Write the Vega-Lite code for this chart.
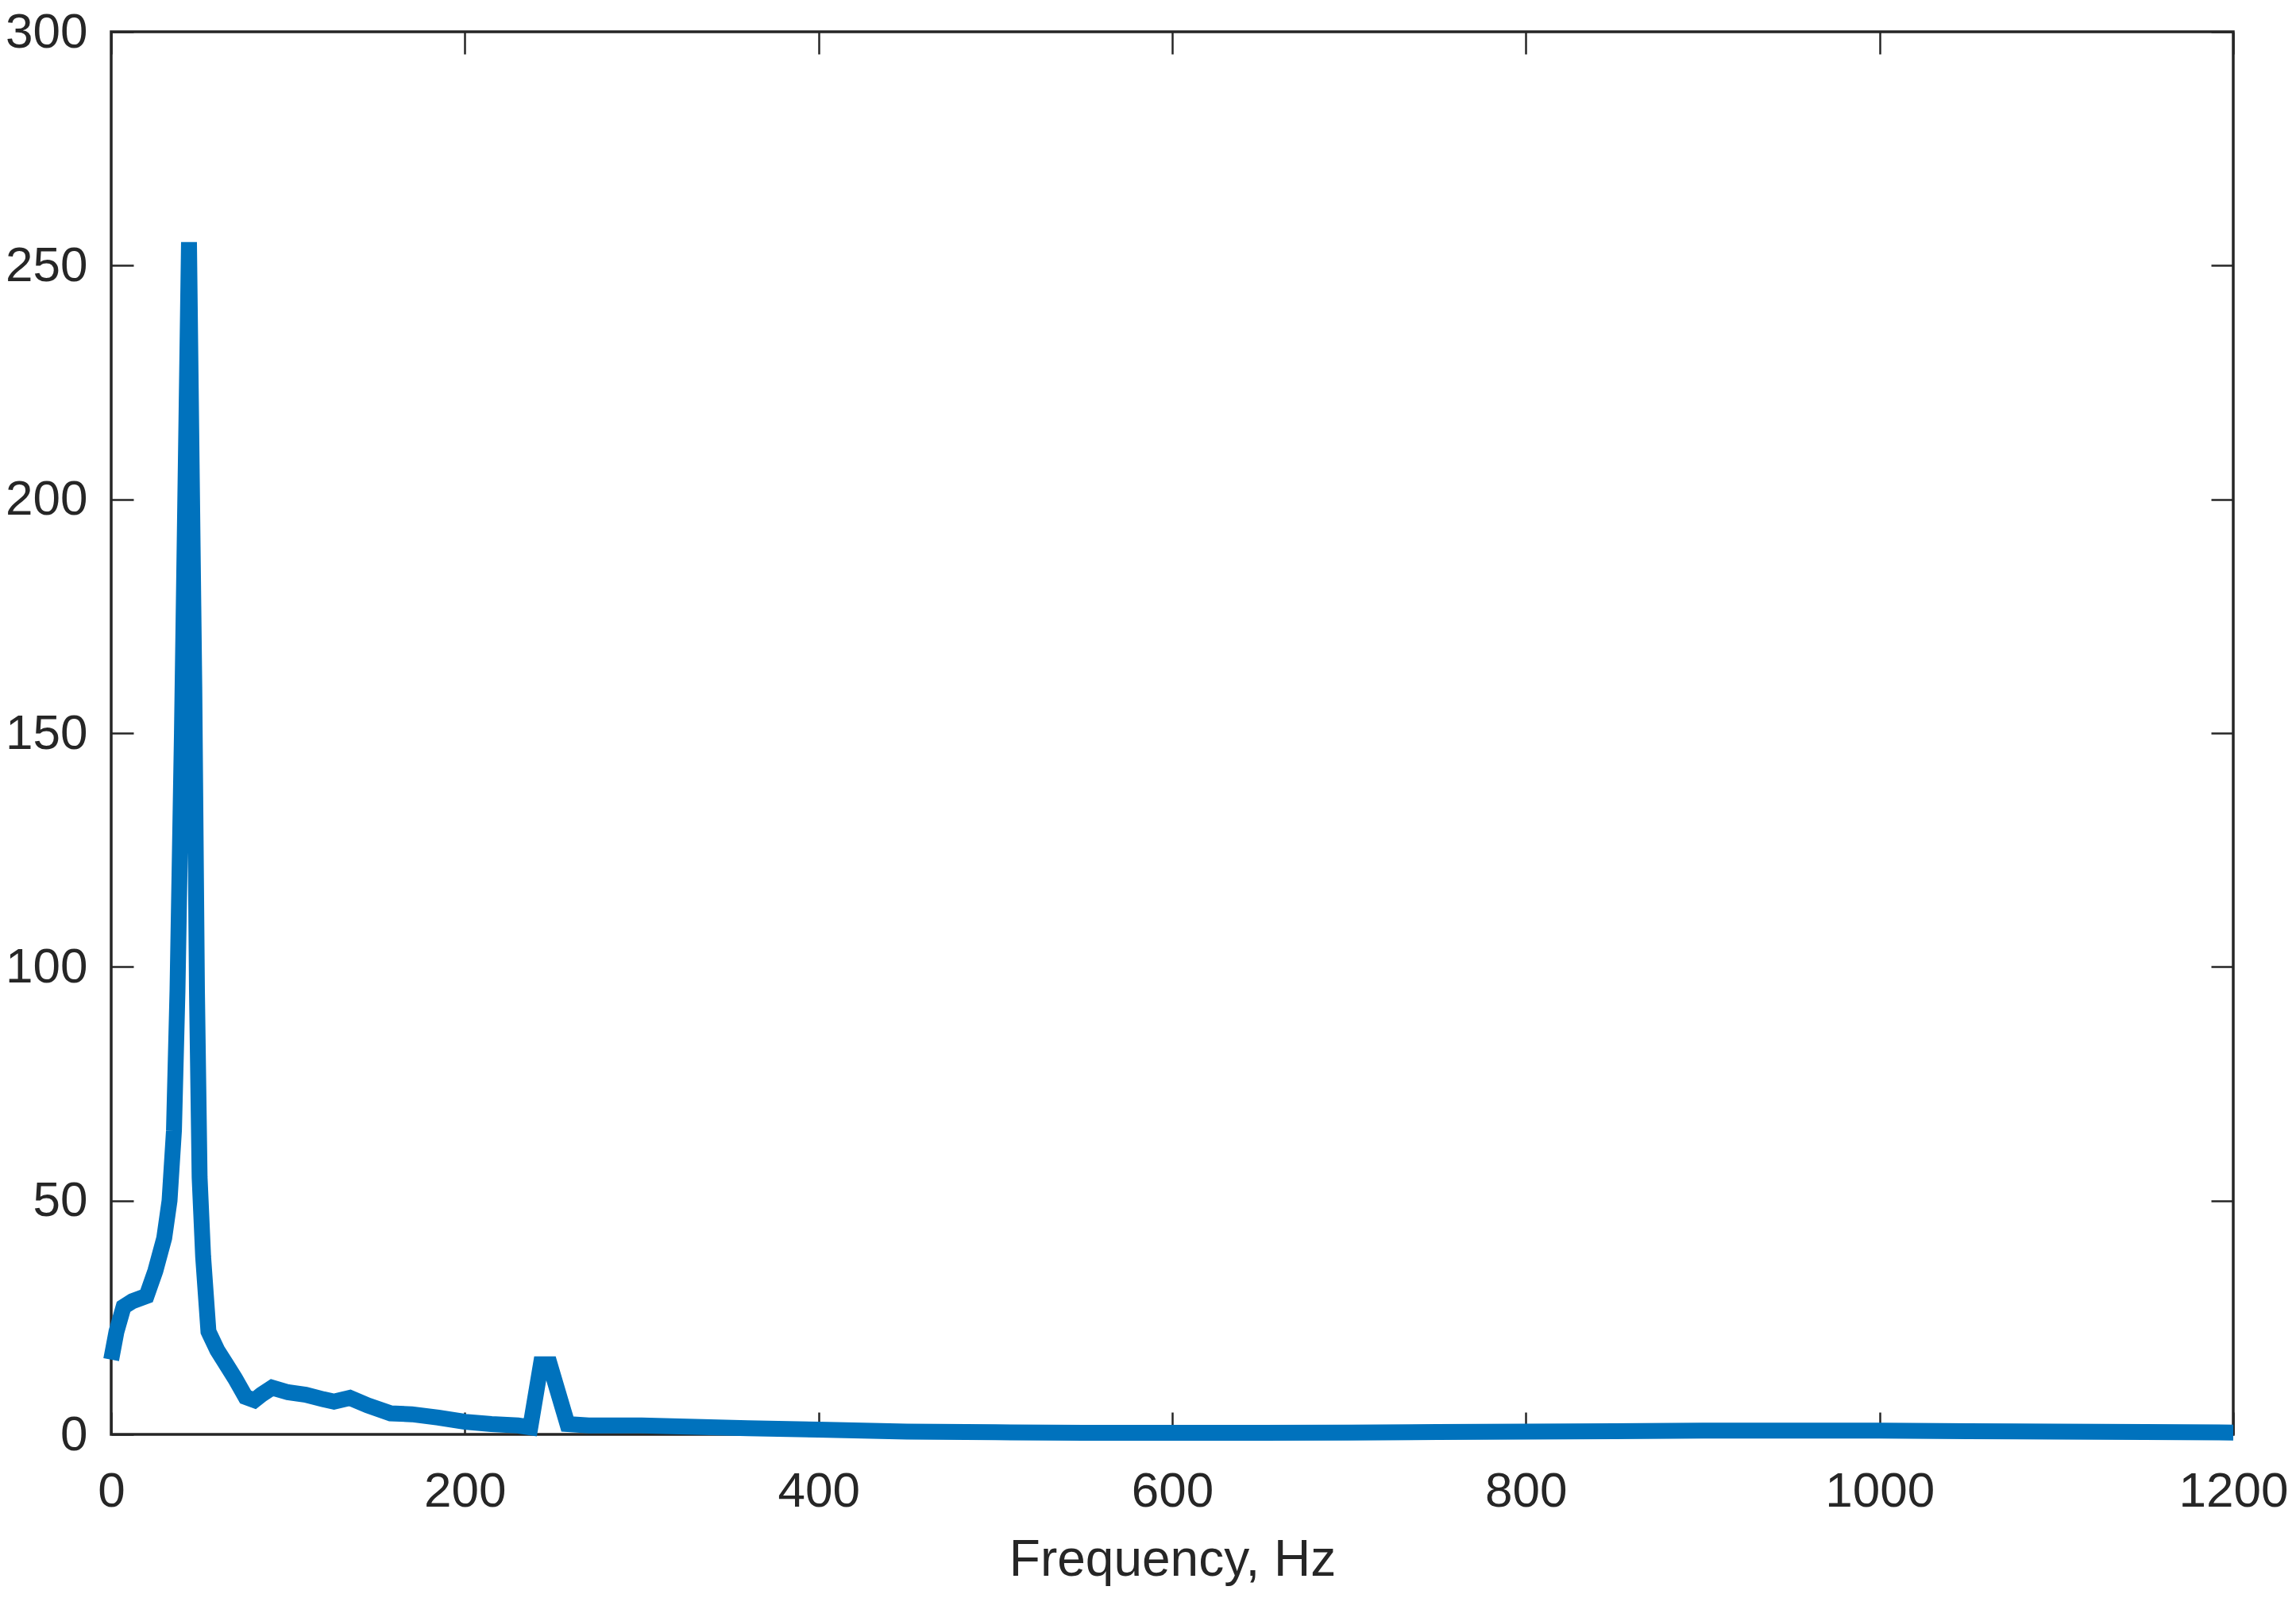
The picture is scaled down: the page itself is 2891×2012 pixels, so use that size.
{
  "$schema": "https://vega.github.io/schema/vega-lite/v6.json",
  "width": 2672,
  "height": 1766,
  "autosize": {"type": "none"},
  "padding": {"left": 140, "top": 40, "right": 79, "bottom": 206},
  "background": "white",
  "config": {
    "view": {"stroke": "#262626", "strokeWidth": 3.5},
    "axis": {
      "domain": false,
      "grid": false,
      "tickColor": "#262626",
      "tickWidth": 2.5,
      "tickSize": -28,
      "labelFlush": false,
      "labelFont": "Liberation Sans",
      "labelFontSize": 62,
      "labelColor": "#262626",
      "titleFont": "Liberation Sans",
      "titleFontSize": 64,
      "titleColor": "#262626",
      "titleFontWeight": "normal"
    }
  },
  "data": {
    "values": [
      {"f": 0, "v": 16},
      {"f": 3, "v": 22},
      {"f": 7, "v": 27.3},
      {"f": 12, "v": 28.5},
      {"f": 20, "v": 29.6},
      {"f": 25, "v": 35},
      {"f": 30, "v": 42},
      {"f": 33, "v": 50},
      {"f": 35.5, "v": 65},
      {"f": 37.5, "v": 95},
      {"f": 40, "v": 150},
      {"f": 44, "v": 255},
      {"f": 47, "v": 160},
      {"f": 48.5, "v": 95},
      {"f": 50, "v": 55},
      {"f": 52, "v": 38},
      {"f": 55, "v": 22},
      {"f": 60, "v": 18},
      {"f": 65, "v": 15},
      {"f": 70, "v": 12},
      {"f": 76, "v": 8},
      {"f": 81, "v": 7.3},
      {"f": 85, "v": 8.5},
      {"f": 91, "v": 10},
      {"f": 100, "v": 9},
      {"f": 110, "v": 8.5},
      {"f": 120, "v": 7.5},
      {"f": 126, "v": 7},
      {"f": 135, "v": 7.8},
      {"f": 145, "v": 6.2},
      {"f": 158, "v": 4.5},
      {"f": 170, "v": 4.3},
      {"f": 185, "v": 3.6},
      {"f": 200, "v": 2.7},
      {"f": 215, "v": 2.2},
      {"f": 230, "v": 1.9},
      {"f": 237, "v": 1.5},
      {"f": 243, "v": 15},
      {"f": 248, "v": 15},
      {"f": 258, "v": 2.2},
      {"f": 270, "v": 1.9},
      {"f": 300, "v": 1.9},
      {"f": 330, "v": 1.6},
      {"f": 360, "v": 1.3},
      {"f": 400, "v": 1.0},
      {"f": 450, "v": 0.6},
      {"f": 500, "v": 0.45},
      {"f": 550, "v": 0.35},
      {"f": 600, "v": 0.35},
      {"f": 650, "v": 0.35},
      {"f": 700, "v": 0.4},
      {"f": 750, "v": 0.5},
      {"f": 800, "v": 0.6},
      {"f": 850, "v": 0.7},
      {"f": 900, "v": 0.8},
      {"f": 950, "v": 0.8},
      {"f": 1000, "v": 0.8},
      {"f": 1050, "v": 0.7},
      {"f": 1100, "v": 0.6},
      {"f": 1150, "v": 0.5},
      {"f": 1200, "v": 0.4}
    ]
  },
  "layer": [
    {
      "mark": {"type": "line", "opacity": 0},
      "encoding": {
        "x": {
          "field": "f", "type": "quantitative",
          "scale": {"domain": [0, 1200], "nice": false, "zero": false},
          "axis": {"orient": "top", "labels": false, "title": null, "values": [0, 200, 400, 600, 800, 1000, 1200]}
        },
        "y": {
          "field": "v", "type": "quantitative",
          "scale": {"domain": [0, 300], "nice": false},
          "axis": {"orient": "right", "labels": false, "title": null, "values": [0, 50, 100, 150, 200, 250, 300]}
        }
      }
    },
    {
      "mark": {"type": "line", "color": "#0072BD", "strokeWidth": 20, "strokeJoin": "miter", "strokeCap": "butt"},
      "encoding": {
        "x": {
          "field": "f", "type": "quantitative",
          "scale": {"domain": [0, 1200], "nice": false, "zero": false},
          "axis": {"orient": "bottom", "title": "Frequency, Hz", "format": "d", "values": [0, 200, 400, 600, 800, 1000, 1200], "labelPadding": 69, "titleBaseline": "alphabetic", "titleY": 177}
        },
        "y": {
          "field": "v", "type": "quantitative",
          "scale": {"domain": [0, 300], "nice": false},
          "axis": {"orient": "left", "title": null, "format": "d", "values": [0, 50, 100, 150, 200, 250, 300], "labelPadding": 58}
        }
      }
    }
  ],
  "resolve": {"axis": {"x": "independent", "y": "independent"}}
}
